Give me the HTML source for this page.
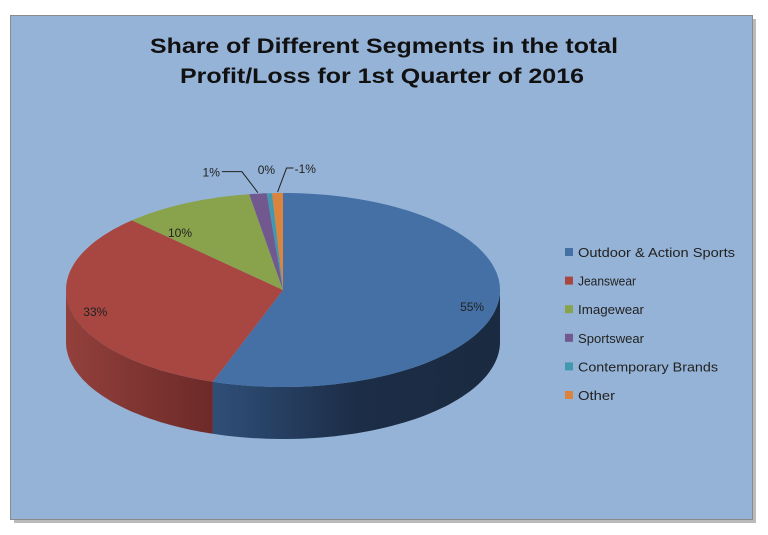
<!DOCTYPE html>
<html><head><meta charset="utf-8"><style>
html,body{margin:0;padding:0;background:#fff;}
svg{display:block;font-family:"Liberation Sans",sans-serif;}
</style></head><body>
<svg id="chart" width="768" height="535" viewBox="0 0 768 535">
<defs>
<linearGradient id="gBlue" x1="0" x2="1" y1="0" y2="0"><stop offset="0" stop-color="#2f4f78"/><stop offset="0.5" stop-color="#1c2d47"/><stop offset="1" stop-color="#1a2a40"/></linearGradient>
<linearGradient id="gRed" x1="0" x2="1" y1="0" y2="0"><stop offset="0" stop-color="#93403c"/><stop offset="1" stop-color="#6c2a28"/></linearGradient>
</defs>
<rect x="14" y="19" width="742" height="504" fill="#bbb"/>
<rect x="10.5" y="15.5" width="742" height="504" fill="#95B3D7" stroke="#8a8a8a"/>
<text x="384" y="53" text-anchor="middle" font-size="21" font-weight="bold" fill="#111" textLength="468" lengthAdjust="spacingAndGlyphs">Share of Different Segments in the total</text>
<text x="382" y="83" text-anchor="middle" font-size="21" font-weight="bold" fill="#111" textLength="404" lengthAdjust="spacingAndGlyphs">Profit/Loss for 1st Quarter of 2016</text>
<g id="pie"></g>
<g id="labels"></g>
<g id="legend"></g>
</svg>
<script>
const categories = ["Outdoor & Action Sports","Jeanswear","Imagewear","Sportswear","Contemporary Brands","Other"];
const values = [55.4, 32.6, 9.8, 1.3, 0.4, -0.8];
const valueLabels = ["55%","33%","10%","1%","0%","-1%"];
const colors = ["#4470A6","#A84642","#89A24C","#71588F","#4198AF","#DB843D"];
const sideFills = ["url(#gBlue)","url(#gRed)","#5f7234","#4f3d64","#2d6a7a","#9a5c2a"];
const NS="http://www.w3.org/2000/svg";
const cx=283, cy=290, rx=217, ry=97, depth=52;
function pt(a,dy){return [cx+rx*Math.sin(a), cy-ry*Math.cos(a)+(dy||0)];}
const total=values.reduce((s,v)=>s+Math.abs(v),0);
const pie=document.getElementById('pie');
let angles=[];let acc=0;
values.forEach(v=>{const a0=acc/total*2*Math.PI;acc+=Math.abs(v);angles.push([a0,acc/total*2*Math.PI]);});
function arcPath(a0,a1,dy,steps){let s=[];for(let i=0;i<=steps;i++){const a=a0+(a1-a0)*i/steps;s.push(pt(a,dy));}return s;}
// sides
angles.forEach(([a0,a1],i)=>{
  const s0=Math.max(a0,Math.PI/2), s1=Math.min(a1,3*Math.PI/2);
  if(s1<=s0) return;
  const top=arcPath(s0,s1,0,60), bot=arcPath(s1,s0,depth,60);
  const d='M'+top.concat(bot).map(p=>p[0].toFixed(1)+','+p[1].toFixed(1)).join('L')+'Z';
  const p=document.createElementNS(NS,'path');
  p.setAttribute('d',d);p.setAttribute('fill',sideFills[i]);
  
  
  pie.appendChild(p);
});
// tops
angles.forEach(([a0,a1],i)=>{
  const pts=arcPath(a0,a1,0,Math.max(4,Math.ceil((a1-a0)*40)));
  const d='M'+cx+','+cy+'L'+pts.map(p=>p[0].toFixed(1)+','+p[1].toFixed(1)).join('L')+'Z';
  const p=document.createElementNS(NS,'path');
  p.setAttribute('d',d);p.setAttribute('fill',colors[i]);
  
  
  pie.appendChild(p);
});
// labels
const lg=document.getElementById('labels');
function txt(parent,x,y,s,size,anchor){const t=document.createElementNS(NS,'text');t.setAttribute('x',x);t.setAttribute('y',y);t.setAttribute('font-size',size);t.setAttribute('fill','#222');if(anchor)t.setAttribute('text-anchor',anchor);t.textContent=s;parent.appendChild(t);return t;}
function line(parent,pts){const p=document.createElementNS(NS,'polyline');p.setAttribute('points',pts.map(q=>q.join(',')).join(' '));p.setAttribute('fill','none');p.setAttribute('stroke','#222');p.setAttribute('stroke-width','1');parent.appendChild(p);return p;}
angles.forEach(([a0,a1],i)=>{
  const m=(a0+a1)/2;
  let x,y,anchor='middle';
  if(Math.abs(values[i])>5){
    const p=pt(m,0);const f=0.8;
    x=cx+(p[0]-cx)*f; y=cy+(p[1]-cy)*f*0.9+5;
    if(i===0){x=p[0]-25;y=p[1]+5;}
    if(i===1){x=p[0]+24;y=p[1]+5;}
    if(i===2){x=p[0]-6;y=p[1]+34;}
  } else {
    const p=pt(m,0);
    let lx,ly,pts;
    if(i===3){lx=p[0]-38;ly=p[1]-17;anchor='end';pts=[[p[0],p[1]-1],[p[0]-16,ly-5],[lx+2,ly-5]];}
    else if(i===4){lx=p[0]-3;ly=p[1]-19;}
    else {lx=p[0]+17;ly=p[1]-20;anchor='start';pts=[[p[0],p[1]-1],[p[0]+9,ly-5],[lx-1,ly-5]];}
    x=lx;y=ly;
    if(pts){const l=line(lg,pts);}
  }
  const t=txt(lg,x.toFixed(1),y.toFixed(1),valueLabels[i],12,anchor);
  
  
});
// legend
const leg=document.getElementById('legend');
const legWidths=[157,58,66,66,140,37];
categories.forEach((c,i)=>{
  const y=252+i*28.6;
  const r=document.createElementNS(NS,'rect');
  r.setAttribute('x',565);r.setAttribute('y',(y-4).toFixed(1));r.setAttribute('width',8);r.setAttribute('height',8);r.setAttribute('fill',colors[i]);
  
  
  leg.appendChild(r);
  const t=txt(leg,578,(y+5).toFixed(1),c,13);
  t.setAttribute('textLength',legWidths[i]);t.setAttribute('lengthAdjust','spacingAndGlyphs');
  
  
});
</script>
</body></html>
